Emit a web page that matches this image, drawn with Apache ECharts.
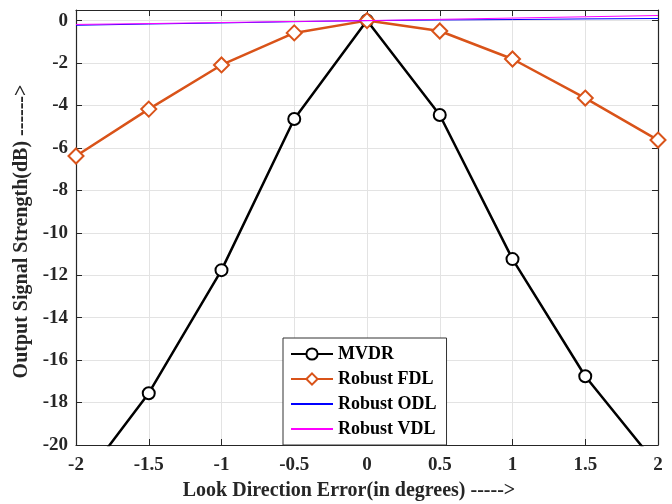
<!DOCTYPE html>
<html>
<head>
<meta charset="utf-8">
<script src="https://cdn.jsdelivr.net/npm/echarts@6/dist/echarts.min.js"></script>
<style>
  html, body { margin: 0; padding: 0; background: #fff; }
  #chart { width: 672px; height: 504px; }
</style>
</head>
<body>
<div id="chart"></div>
<script>
// Look-direction error (degrees)
const errors = [-2, -1.5, -1, -0.5, 0, 0.5, 1, 1.5, 2];
// Output signal strength (dB) per beamformer
const mvdr = [-22.1, -17.56, -11.76, -4.64, 0, -4.45, -11.24, -16.76, -21.0];
const robustFDL = [-6.38, -4.17, -2.09, -0.58, 0, -0.49, -1.81, -3.65, -5.63];
const robustODL = [-0.22, -0.16, -0.11, -0.05, 0, 0.03, 0.05, 0.08, 0.1];
const robustVDL = [-0.18, -0.14, -0.09, -0.04, 0, 0.06, 0.12, 0.18, 0.24];

const xTicks = ['-2', '-1.5', '-1', '-0.5', '0', '0.5', '1', '1.5', '2'];
const seriesNames = ['MVDR', 'Robust FDL', 'Robust ODL', 'Robust VDL'];

const FONT = '"Liberation Serif", "Times New Roman", serif';
const pairs = arr => errors.map((x, i) => [x, arr[i]]);

const chart = echarts.init(document.getElementById('chart'));

const yLabel = v => (Math.abs(v % 2) < 1e-9 ? String(v) : '');
const xLabel = v => {
  const s = String(v);
  return xTicks.indexOf(s) >= 0 ? s : '';
};

const frameLine = { show: true, onZero: false, lineStyle: { color: '#262626', width: 1.2 } };
const innerTick = { show: true, inside: true, length: 6, lineStyle: { color: '#262626' } };
const labelFont = { fontFamily: FONT, fontWeight: 'bold', fontSize: 19, color: '#262626' };
const titleFont = { fontFamily: FONT, fontWeight: 'bold', fontSize: 20, color: '#262626' };
const gridLine = { show: true, lineStyle: { color: '#e3e3e3', width: 1 } };

chart.setOption({
  animation: false,
  backgroundColor: '#fff',
  grid: { left: 76, right: 14, top: 10, bottom: 59, containLabel: false, outerBoundsMode: 'none' },
  legend: {
    orient: 'vertical',
    left: 283,
    top: 338,
    width: 174,
    backgroundColor: '#fff',
    borderColor: '#333',
    borderWidth: 1,
    padding: [7, 10, 7, 7],
    itemGap: 7,
    itemWidth: 42,
    itemHeight: 14,
    textStyle: { fontFamily: FONT, fontWeight: 'bold', fontSize: 18, color: '#000' },
    data: [
      { name: seriesNames[0] },
      { name: seriesNames[1] },
      { name: seriesNames[2], itemStyle: { opacity: 0 } },
      { name: seriesNames[3], itemStyle: { opacity: 0 } }
    ]
  },
  xAxis: [
    {
      type: 'value', min: -2, max: 2, interval: 0.5,
      name: 'Look Direction Error(in degrees) ----->',
      nameLocation: 'middle', nameGap: 36,
      nameTextStyle: Object.assign({ padding: [0, 36, 0, 0] }, titleFont),
      axisLine: frameLine,
      axisTick: innerTick,
      axisLabel: Object.assign({ formatter: xLabel, margin: 11 }, labelFont),
      splitLine: gridLine
    },
    {
      type: 'value', min: -2, max: 2, interval: 0.5, position: 'top',
      axisLine: frameLine,
      axisTick: innerTick,
      axisLabel: { show: false },
      splitLine: { show: false }
    }
  ],
  yAxis: [
    {
      type: 'value', min: -20, max: 0.5, interval: 2,
      name: 'Output Signal Strength(dB) ------>',
      nameLocation: 'middle', nameGap: 44,
      nameTextStyle: Object.assign({ padding: [0, 8, 0, 0] }, titleFont),
      axisLine: frameLine,
      axisTick: innerTick,
      axisLabel: Object.assign({ formatter: yLabel, margin: 8 }, labelFont),
      splitLine: gridLine
    },
    {
      type: 'value', min: -20, max: 0.5, interval: 2, position: 'right',
      axisLine: frameLine,
      axisTick: innerTick,
      axisLabel: { show: false },
      splitLine: { show: false }
    }
  ],
  series: [
    {
      name: seriesNames[0], type: 'line', data: pairs(mvdr),
      symbol: 'emptyCircle', symbolSize: 12,
      lineStyle: { color: '#000', width: 2.5 },
      itemStyle: { color: '#000', borderWidth: 2 },
      z: 3
    },
    {
      name: seriesNames[1], type: 'line', data: pairs(robustFDL),
      symbol: 'emptyDiamond', symbolSize: 15,
      lineStyle: { color: '#d95319', width: 2.5 },
      itemStyle: { color: '#d95319', borderWidth: 2.2 },
      z: 3
    },
    {
      name: seriesNames[2], type: 'line', data: pairs(robustODL),
      showSymbol: false,
      lineStyle: { color: '#0000ff', width: 1 },
      itemStyle: { color: '#0000ff' },
      z: 4
    },
    {
      name: seriesNames[3], type: 'line', data: pairs(robustVDL),
      showSymbol: false,
      lineStyle: { color: '#ff00ff', width: 1 },
      itemStyle: { color: '#ff00ff' },
      z: 4
    }
  ]
});
</script>
</body>
</html>
